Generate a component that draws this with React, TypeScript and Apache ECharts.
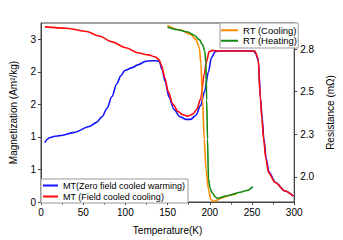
import React, { useEffect, useRef } from "react";
import * as echarts from "echarts";

// Magnetization (left axis)
const zfcT = [4.7, 7, 10.5, 16.3, 22.2, 39.7, 57.2, 65.4, 72.4, 78.2, 84, 89.9, 94.6, 99.2, 107.4, 115.6, 123.7, 130.7, 136.6, 140.1, 143.6, 147.1, 151.7, 157.6, 164.6, 171.6, 177.4, 183.3, 189.1, 193.8, 198.4, 201.9, 206.6, 211.3, 230, 252, 254.5, 257.5, 260, 262, 264, 266.8, 270, 278, 289, 299];
const zfcM = [0.91, 0.96, 0.99, 1.01, 1.02, 1.07, 1.16, 1.22, 1.31, 1.44, 1.62, 1.82, 1.94, 2.02, 2.06, 2.11, 2.16, 2.17, 2.17, 2.16, 2.03, 1.85, 1.61, 1.42, 1.31, 1.27, 1.27, 1.33, 1.48, 1.7, 2.0, 2.22, 2.31, 2.32, 2.32, 2.32, 2.28, 2.17, 1.6, 1.29, 0.98, 0.67, 0.46, 0.3, 0.17, 0.09];

const fcT = [4.7, 30.3, 53.7, 68.9, 84, 100.4, 115.6, 127.2, 135.4, 139.7, 142.4, 146.7, 150.6, 156.4, 162.3, 168.1, 173.9, 179.8, 184.4, 189.1, 193.4, 196.1, 199.3, 203.1, 209, 230, 253.3, 257.2, 260, 261.8, 263.8, 266.5, 269.6, 277.5, 289.1, 298.8];
const fcM = [2.69, 2.67, 2.62, 2.55, 2.46, 2.37, 2.29, 2.26, 2.23, 2.19, 2.11, 1.91, 1.7, 1.5, 1.39, 1.34, 1.32, 1.35, 1.42, 1.58, 1.96, 2.16, 2.31, 2.33, 2.32, 2.32, 2.32, 2.21, 1.58, 1.27, 0.96, 0.66, 0.45, 0.3, 0.17, 0.09];

// Resistance (right axis)
const coolT = [149.8, 166.1, 177.8, 183.6, 187.6, 189.4, 191.4, 193.4, 195.5, 198.4, 201.1, 203.9, 209, 212.8, 224.5, 232];
const coolR = [2.89, 2.861, 2.835, 2.806, 2.758, 2.67, 2.454, 2.22, 2.045, 1.928, 1.87, 1.856, 1.864, 1.874, 1.893, 1.9];

const heatT = [149.8, 162.3, 173.9, 181.7, 187.6, 191.4, 194.1, 195.3, 196.3, 197.3, 198.4, 200.5, 203.1, 207, 209, 220.6, 236.1, 244, 251];
const heatR = [2.88, 2.864, 2.851, 2.832, 2.806, 2.777, 2.738, 2.67, 2.45, 2.22, 1.987, 1.93, 1.905, 1.88, 1.874, 1.889, 1.909, 1.92, 1.942];

const xTicks = [0, 50, 100, 150, 200, 250, 300];
const leftTicks = [0, 0.5, 1.0, 1.5, 2.0, 2.5];
const rightTicks = [2.0, 2.25, 2.5, 2.75];

const NAMES = {
  zfc: "MT(Zero field cooled warming)",
  fc: "MT (Field cooled cooling)",
  cool: "RT (Cooling)",
  heat: "RT (Heating)",
};

const zip = (a: number[], b: number[]) => a.map((v, i) => [v, b[i]]);
const FONT = "Liberation Sans, Arial, sans-serif";

export default function App() {
  const ref = useRef<HTMLDivElement>(null);
  useEffect(() => {
    const chart = echarts.init(ref.current!, null, { renderer: "svg" });
    const lineSeries = (name: string, data: number[][], color: string, yIndex: number) => ({
      name,
      type: "line",
      yAxisIndex: yIndex,
      data,
      showSymbol: false,
      symbol: "none",
      smooth: 0.3,
      smoothMonotone: "x",
      lineStyle: { color, width: 1.6 },
      itemStyle: { color },
    });
    chart.setOption({
      animation: false,
      textStyle: { fontFamily: FONT },
      grid: { left: 41, right: 45, top: 23, bottom: 37, show: true, borderColor: "#444", borderWidth: 1, backgroundColor: "transparent" },
      legend: [
        {
          data: [NAMES.zfc, NAMES.fc],
          orient: "vertical",
          left: 41,
          top: 179,
          icon: "rect",
          itemWidth: 15,
          itemHeight: 2,
          itemGap: 0,
          padding: [1, 3, 1, 2],
          borderColor: "#999",
          borderWidth: 1,
          backgroundColor: "#fff",
          textStyle: { fontSize: 9, lineHeight: 11, color: "#000", fontFamily: FONT },
        },
        {
          data: [NAMES.cool, NAMES.heat],
          orient: "vertical",
          left: 220,
          top: 23,
          icon: "rect",
          itemWidth: 17,
          itemHeight: 2,
          itemGap: 0,
          padding: [2, 1, 2, 1],
          borderColor: "#999",
          borderWidth: 1,
          backgroundColor: "#fff",
          textStyle: { fontSize: 9.5, lineHeight: 10.5, color: "#000", fontFamily: FONT },
        },
      ],
      xAxis: {
        type: "value",
        min: 0,
        max: 300,
        interval: 50,
        name: "Temperature(K)",
        nameLocation: "middle",
        nameGap: 23,
        nameTextStyle: { fontSize: 10, color: "#000", fontFamily: FONT },
        axisLine: { lineStyle: { color: "#444", width: 1 } },
        axisTick: { show: true, inside: false, length: 3, lineStyle: { color: "#444" } },
        minorTick: { show: true, splitNumber: 2, length: 2.5, lineStyle: { color: "#444" } },
        axisLabel: { fontSize: 10, color: "#000", margin: 5, fontFamily: FONT, customValues: xTicks },
        splitLine: { show: false },
      },
      yAxis: [
        {
          type: "value",
          min: 0,
          max: 2.75,
          position: "left",
          name: "Magnetization (Am²/kg)",
          nameLocation: "middle",
          nameRotate: 90,
          nameGap: 23,
          nameTextStyle: { fontSize: 10, color: "#000", fontFamily: FONT },
          axisLine: { show: true, lineStyle: { color: "#444", width: 1 } },
          axisTick: { show: true, inside: false, length: 3, lineStyle: { color: "#444" }, customValues: leftTicks },
          axisLabel: { fontSize: 10, color: "#000", margin: 5, fontFamily: FONT, customValues: leftTicks, formatter: (v: number) => String(Math.round(v)) },
          splitLine: { show: false },
        },
        {
          type: "value",
          min: 1.852,
          max: 2.904,
          position: "right",
          name: "Resistance (mΩ)",
          nameLocation: "middle",
          nameRotate: 90,
          nameGap: 26,
          nameTextStyle: { fontSize: 10, color: "#000", fontFamily: FONT },
          axisLine: { show: true, lineStyle: { color: "#444", width: 1 } },
          axisTick: { show: true, inside: false, length: 3, lineStyle: { color: "#444" }, customValues: rightTicks },
          axisLabel: { fontSize: 10, color: "#000", margin: 6, fontFamily: FONT, customValues: rightTicks, formatter: (v: number) => v.toFixed(1) },
          splitLine: { show: false },
        },
      ],
      series: [
        lineSeries(NAMES.zfc, zip(zfcT, zfcM), "#1414ff", 0),
        lineSeries(NAMES.fc, zip(fcT, fcM), "#ff0a0a", 0),
        lineSeries(NAMES.cool, zip(coolT, coolR), "#ff8a00", 1),
        lineSeries(NAMES.heat, zip(heatT, heatR), "#138a13", 1),
      ],
    });
    return () => chart.dispose();
  }, []);
  return <div ref={ref} style={{ position: "absolute", left: 0, top: 0, width: 343, height: 240 }} />;
}
